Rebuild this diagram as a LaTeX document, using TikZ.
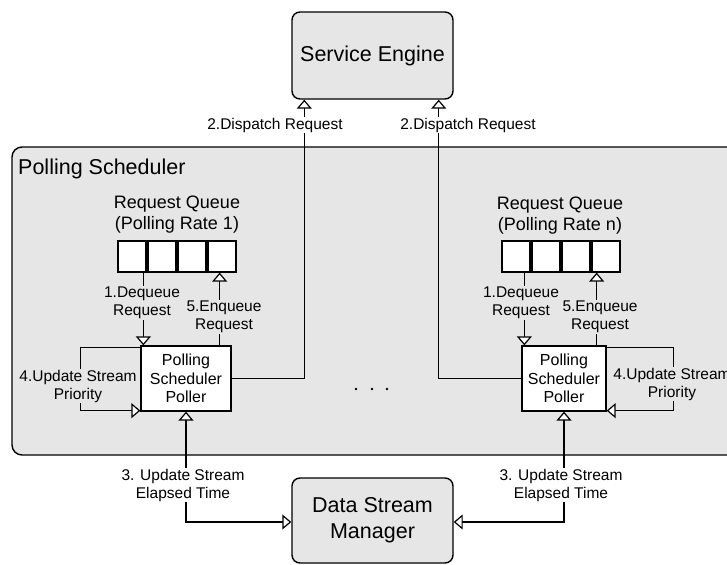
\documentclass[tikz,border=0pt]{standalone}
\usepackage{fontspec}
\setmainfont{Liberation Sans}
\usetikzlibrary{arrows.meta}
\definecolor{panelgray}{RGB}{230,230,230}
\begin{document}
\begin{tikzpicture}[x=1pt,y=-1pt,
    bigfont/.style={font=\fontsize{21.5}{26}\selectfont},
    midfont/.style={font=\fontsize{18}{21}\selectfont},
    smallfont/.style={font=\fontsize{15.5}{18}\selectfont},
    unitbox/.style={draw,line width=1.4pt,fill=panelgray,rounded corners=8pt,bigfont,align=center,minimum width=161pt},
    poller/.style={draw,line width=1.3pt,fill=white,align=center,minimum height=65pt,inner sep=0pt,font=\fontsize{16}{18.5}\selectfont},
    cell/.style={draw,line width=1.3pt,fill=white,minimum width=28pt,minimum height=31pt,inner sep=0pt},
    lbl/.style={smallfont,align=center,inner sep=1pt},
    tip/.tip={Triangle[length=9pt,width=15pt,fill=white,line width=1.2pt]},
    flow/.style={line width=1.3pt,-tip},
    twoway/.style={line width=1.3pt,tip-tip},
    ]
    \clip (0,0) rectangle (727,564);
    \draw[line width=1.4pt,fill=panelgray,rounded corners=10pt] (12,147) rectangle (750,455);
    \node[bigfont,anchor=base west,inner sep=0pt] (title) at (18,175) {Polling Scheduler};

    \node[unitbox,minimum height=87pt] (engine) at (372.5,55.5) {Service Engine};
    \node[unitbox,minimum height=85pt] (manager) at (372.5,520.5) {Data Stream\\Manager};

    \node[poller,minimum width=90pt] (pollerA) at (186,378.5) {Polling\\Scheduler\\Poller};
    \node[poller,minimum width=84pt] (pollerB) at (564,378.5) {Polling\\Scheduler\\Poller};

    \foreach \i in {1,...,4} {
        \node[cell] (qA\i) at (102+30*\i,256.5) {};
        \node[cell] (qB\i) at (486+30*\i,256.5) {};
    }
    \node[midfont,align=center] (queueA) at (177,215) {Request Queue\\(Polling Rate 1)};
    \node[midfont,align=center] (queueB) at (560,216) {Request Queue\\(Polling Rate n)};

    % dispatch
    \draw[flow] (pollerA.east) -| ([xshift=13pt]engine.south west);
    \draw[flow] (pollerB.west) -| ([xshift=-15pt]engine.south east);
    % dequeue and enqueue
    \draw[flow] ([xshift=3pt]pollerA.north west |- qA1.south) -- ([xshift=3pt]pollerA.north west);
    \draw[flow] ([xshift=-12pt]pollerA.north east) -- ([xshift=-12pt]pollerA.north east |- qA4.south);
    \draw[flow] ([xshift=3pt]pollerB.north west |- qB1.south) -- ([xshift=3pt]pollerB.north west);
    \draw[flow] ([xshift=-10pt]pollerB.north east) -- ([xshift=-10pt]pollerB.north east |- qB4.south);
    % priority loops
    \draw[flow] ([yshift=-2pt]pollerA.north west) -- ++(-60,0) |- ([yshift=1pt]pollerA.south west);
    \draw[flow] ([yshift=-2pt]pollerB.north east) -- ++(67,0) |- ([yshift=1pt]pollerB.south east);
    % elapsed time
    \draw[twoway] (pollerA.south) |- ([yshift=-1.5pt]manager.west);
    \draw[twoway] (pollerB.south) |- ([yshift=-1.5pt]manager.east);

    \node[lbl,fill=white] (dispA) at (275,125) {2.Dispatch Request};
    \node[lbl,fill=white] (dispB) at (468,125) {2.Dispatch Request};
    \node[lbl,fill=panelgray] (deqA) at (142,303) {1.Dequeue\\Request};
    \node[lbl,fill=panelgray] (enqA) at (224,317) {5.Enqueue\\Request};
    \node[lbl,fill=panelgray] (deqB) at (521,303) {1.Dequeue\\Request};
    \node[lbl,fill=panelgray] (enqB) at (600,317) {5.Enqueue\\Request};
    \node[lbl,fill=panelgray] (prioA) at (78,386) {4.Update Stream\\Priority};
    \node[lbl,fill=panelgray] (prioB) at (672,384) {4.Update Stream\\Priority};
    \node[lbl,fill=white] (timeA) at (183,485) {3. Update Stream\\Elapsed Time};
    \node[lbl,fill=white] (timeB) at (561,485) {3. Update Stream\\Elapsed Time};

    \foreach \x in {356,372,387}
        \fill (\x,389) circle (1.3);
\end{tikzpicture}
\end{document}
